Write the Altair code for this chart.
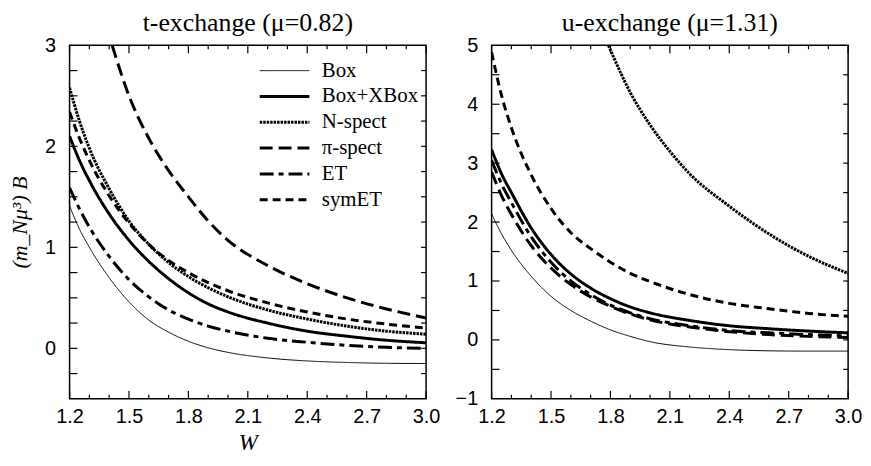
import altair as alt
import pandas as pd

series = ["Box", "Box+XBox", "N-spect", "π-spect", "ET", "symET"]
dashes = [[1, 0], [1, 0], [2.5, 1], [13, 6], [14, 5, 5, 5], [8, 5]]
widths = [1, 3, 3, 3, 3, 3]

# ---- t-exchange panel (mu = 0.82) ----
t_W = [1.2, 1.25, 1.3, 1.4, 1.5, 1.6, 1.7, 1.8, 1.9, 2.0, 2.2, 2.4, 2.6, 2.8, 3.0]
t_box = [1.41, 1.18, 1.00, 0.70, 0.46, 0.28, 0.16, 0.07, 0.005, -0.04, -0.095, -0.125, -0.14, -0.148, -0.15]
t_boxx = [2.10, 1.86, 1.66, 1.33, 1.07, 0.86, 0.69, 0.55, 0.44, 0.36, 0.25, 0.17, 0.12, 0.08, 0.055]
t_nspect = [2.58, 2.25, 1.98, 1.58, 1.26, 1.03, 0.85, 0.71, 0.60, 0.51, 0.38, 0.29, 0.22, 0.17, 0.14]
t_symet = [2.34, 2.08, 1.86, 1.51, 1.24, 1.03, 0.87, 0.75, 0.65, 0.57, 0.45, 0.36, 0.29, 0.24, 0.20]
t_et = [1.59, 1.38, 1.20, 0.91, 0.68, 0.51, 0.38, 0.29, 0.22, 0.17, 0.10, 0.06, 0.03, 0.01, 0.0]
t_pi_W = [1.415, 1.5, 1.6, 1.7, 1.8, 1.9, 2.0, 2.2, 2.4, 2.6, 2.8, 3.0]
t_pi = [3.0, 2.50, 2.08, 1.76, 1.50, 1.26, 1.07, 0.82, 0.64, 0.50, 0.39, 0.30]

# ---- u-exchange panel (mu = 1.31) ----
u_W = [1.2, 1.25, 1.3, 1.4, 1.5, 1.6, 1.7, 1.8, 1.9, 2.0, 2.2, 2.4, 2.6, 2.8, 3.0]
u_box = [2.14, 1.80, 1.52, 1.08, 0.74, 0.50, 0.32, 0.17, 0.06, -0.03, -0.12, -0.165, -0.185, -0.19, -0.19]
u_boxx = [3.23, 2.82, 2.50, 1.90, 1.45, 1.12, 0.88, 0.70, 0.56, 0.46, 0.33, 0.24, 0.19, 0.15, 0.12]
u_et = [3.05, 2.65, 2.33, 1.75, 1.32, 1.00, 0.77, 0.59, 0.46, 0.36, 0.24, 0.16, 0.12, 0.09, 0.07]
u_pi = [2.85, 2.45, 2.13, 1.60, 1.22, 0.94, 0.73, 0.57, 0.44, 0.34, 0.22, 0.14, 0.09, 0.06, 0.04]
u_symet = [4.88, 4.15, 3.60, 2.80, 2.23, 1.82, 1.55, 1.32, 1.13, 0.99, 0.77, 0.62, 0.53, 0.45, 0.40]
u_ns_W = [1.79, 1.9, 2.0, 2.1, 2.2, 2.4, 2.6, 2.8, 3.0]
u_nspect = [5.0, 4.2, 3.65, 3.2, 2.82, 2.27, 1.80, 1.42, 1.13]

# ticks
x_major = [1.2, 1.5, 1.8, 2.1, 2.4, 2.7, 3.0]
x_minor = [1.3, 1.4, 1.6, 1.7, 1.9, 2.0, 2.2, 2.3, 2.5, 2.6, 2.8, 2.9]
t_yticks = [-0.25, 0.0, 0.25, 0.5, 0.75, 1.0, 1.25, 1.5, 1.75, 2.0, 2.25, 2.5, 2.75]
t_ylabels = [0, 1, 2, 3]
u_yticks = [-0.5, 0.0, 0.5, 1.0, 1.5, 2.0, 2.5, 3.0, 3.5, 4.0, 4.5]
u_ylabels = [-1, 0, 1, 2, 3, 4, 5]


def long_df(pairs):
    rows = []
    for name, xs, ys in pairs:
        for x, y in zip(xs, ys):
            rows.append({"series": name, "W": x, "B": y})
    return pd.DataFrame(rows)


t_df = long_df([
    ("Box", t_W, t_box), ("Box+XBox", t_W, t_boxx), ("N-spect", t_W, t_nspect),
    ("π-spect", t_pi_W, t_pi), ("ET", t_W, t_et), ("symET", t_W, t_symet),
])
u_df = long_df([
    ("Box", u_W, u_box), ("Box+XBox", u_W, u_boxx), ("N-spect", u_ns_W, u_nspect),
    ("π-spect", u_W, u_pi), ("ET", u_W, u_et), ("symET", u_W, u_symet),
])

W_PX = 359
H_PX = 356


def panel(df, ydom, yticks, ylabels, title, xtitle, ytitle, show_legend):
    xs = alt.Scale(domain=[1.2, 3.0], nice=False, zero=False)
    ys = alt.Scale(domain=ydom, nice=False, zero=False)
    xax = alt.Axis(values=x_major, format=".1f", labelPadding=8, title=xtitle,
                   labelFlush=False, labelOverlap=False,
                   titlePadding=5, titleFont="Liberation Serif", titleFontStyle="italic",
                   titleFontWeight="normal", titleFontSize=23)
    yax = alt.Axis(values=ylabels, format="d", labelPadding=14, title=ytitle,
                   labelFlush=False, labelOverlap=False,
                   titlePadding=13, titleFont="Liberation Serif", titleFontStyle="italic",
                   titleFontWeight="normal", titleFontSize=22)
    xenc = alt.X("W:Q", scale=xs, axis=xax)
    yenc = alt.Y("B:Q", scale=ys, axis=yax)

    dscale = alt.Scale(domain=series, range=dashes)
    wscale = alt.Scale(type="ordinal", domain=series, range=widths)
    if show_legend:
        leg = alt.Legend(orient="none", legendX=205, legendY=15, title=None,
                         symbolType="M-2.5,0H2.5", symbolSize=400, symbolStrokeColor="black",
                         labelFont="Liberation Serif", labelFontSize=21, labelColor="black",
                         labelOffset=26, rowPadding=4, labelLimit=300)
        sd = alt.StrokeDash("series:N", scale=dscale, legend=leg)
        sw = alt.StrokeWidth("series:N", scale=wscale, legend=leg)
    else:
        sd = alt.StrokeDash("series:N", scale=dscale, legend=None)
        sw = alt.StrokeWidth("series:N", scale=wscale, legend=None)

    lines = alt.Chart(df).mark_line(interpolate="monotone", clip=True, color="black").encode(
        x=xenc, y=yenc, strokeDash=sd, strokeWidth=sw, detail="series:N"
    )

    layers = [lines]
    xmaj = pd.DataFrame({"W": x_major})
    xmin = pd.DataFrame({"W": x_minor})
    yt = pd.DataFrame({"B": yticks})
    for d, ln in ((xmaj, 8), (xmin, 4)):
        layers.append(alt.Chart(d).mark_rule(color="black", strokeWidth=1.2).encode(
            x=xenc, y=alt.value(H_PX), y2=alt.value(H_PX - ln)))
        layers.append(alt.Chart(d).mark_rule(color="black", strokeWidth=1.2).encode(
            x=xenc, y=alt.value(0), y2=alt.value(ln)))
    layers.append(alt.Chart(yt).mark_rule(color="black", strokeWidth=1.2).encode(
        y=yenc, x=alt.value(0), x2=alt.value(8)))
    layers.append(alt.Chart(yt).mark_rule(color="black", strokeWidth=1.2).encode(
        y=yenc, x=alt.value(W_PX), x2=alt.value(W_PX - 5)))

    return alt.layer(*layers).properties(
        width=W_PX, height=H_PX,
        title=alt.Title(title, offset=-1, fontSize=26, font="Liberation Serif",
                        fontWeight="normal", color="black", anchor="middle"),
    )


left = panel(t_df, [-0.5, 3.0], t_yticks, t_ylabels, "t-exchange (μ=0.82)", "W",
             "(m_Nμ³) B", True)
right = panel(u_df, [-1.0, 5.0], u_yticks, u_ylabels, "u-exchange (μ=1.31)", "", "", False)

chart = alt.hconcat(left, right, spacing=13).resolve_scale(
    x="independent", y="independent", strokeDash="independent", strokeWidth="independent"
).resolve_legend(strokeDash="independent", strokeWidth="independent").properties(
    padding={"left": 0, "top": 0, "right": 0, "bottom": 0}
).configure_view(stroke="black", strokeWidth=1.5).configure_axis(
    domain=False, ticks=False, grid=False,
    labelFont="Liberation Sans", labelFontSize=20, labelColor="black",
    titleColor="black",
)

chart.save("out.html", embed_options={"renderer": "svg", "actions": False})
